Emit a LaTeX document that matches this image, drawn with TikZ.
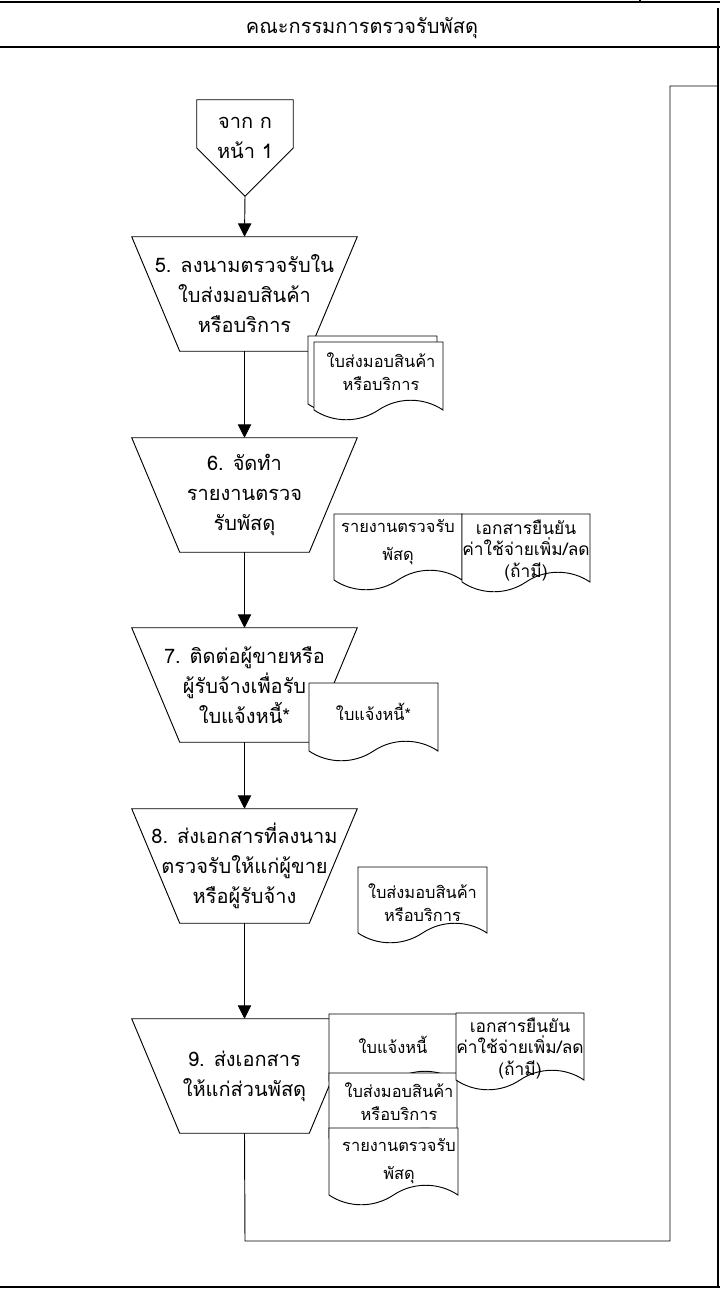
\documentclass[tikz,border=0pt]{standalone}
\usepackage{fontspec}
\setmainfont[Script=Thai]{Loma}
\usetikzlibrary{arrows.meta}
\newcommand{\trapdraw}[1]{\draw[shapeline] (#1.north west) -- (#1.north east) -- ([xshift=-36pt]#1.south east) -- ([xshift=36pt]#1.south west) -- cycle;}
\newcommand{\docdraw}[4]{\draw[shapeline, fill=white] (#1,#2) -- ({#1+#3},#2) -- ({#1+#3},#4)
   .. controls ({#1+0.85*#3},{#4-13}) and ({#1+0.65*#3},{#4-13}) .. ({#1+0.5*#3},#4)
   .. controls ({#1+0.35*#3},{#4+13}) and ({#1+0.15*#3},{#4+13}) .. (#1,#4) -- cycle;}
\begin{document}
\begin{tikzpicture}[x=0.75pt,y=-0.75pt,
  frameline/.style={line width=1.5pt, draw=black},
  shapeline/.style={line width=0.7pt, draw=black},
  flow/.style={shapeline, -{Triangle[length=10pt,width=10pt]}},
  stepbox/.style={inner sep=0pt, minimum width=168.75pt, minimum height=85.5pt, align=center, font=\fontsize{15}{22.5}\selectfont},
  doctext/.style={inner sep=0pt, align=center, font=\fontsize{12.3}{17}\selectfont},
  doctextb/.style={inner sep=0pt, align=center, font=\fontsize{13}{16}\selectfont},
]
\useasboundingbox (0,0) rectangle (720,1290);
% frame
\draw[frameline] (0,2) -- (720,2);
\draw[frameline] (640,0) -- (640,3);
\draw[frameline] (0,47) -- (720,47);
\draw[frameline] (718,8) -- (718,1288);
\draw[frameline] (0,1287) -- (720,1287);
\node[font=\fontsize{15}{20}\selectfont] (title) at (362,28) {คณะกรรมการตรวจรับพัสดุ};

% off-page connector
\node[inner sep=0pt, minimum width=72pt, minimum height=72pt] (offp) at (245,148) {};
\draw[shapeline] (offp.north west) -- (offp.north east) -- (offp.east) -- (offp.south) -- (offp.west) -- cycle;
\node[align=center, inner sep=0pt, font=\fontsize{15}{22.5}\selectfont] (offpt) at (245,138) {จาก ก\\หน้า 1};

% steps
\node[stepbox] (s5) at (244.5,294) {5. ลงนามตรวจรับใน\\ใบส่งมอบสินค้า\\หรือบริการ};
\node[stepbox] (s6) at (244.5,495) {6. จัดทำ\\รายงานตรวจ\\รับพัสดุ};
\node[stepbox] (s7) at (244.5,685) {7. ติดต่อผู้ขายหรือ\\ผู้รับจ้างเพื่อรับ\\ใบแจ้งหนี้*};
\node[stepbox] (s8) at (244.5,866) {8. ส่งเอกสารที่ลงนาม\\ตรวจรับให้แก่ผู้ขาย\\หรือผู้รับจ้าง};
\node[stepbox] (s9) at (244.5,1076) {9. ส่งเอกสาร\\ให้แก่ส่วนพัสดุ};
\trapdraw{s5}
\trapdraw{s6}
\trapdraw{s7}
\trapdraw{s8}
\trapdraw{s9}

% connectors
\draw[flow] (offp.south) -- (s5.north);
\draw[flow] (s5.south) -- (s6.north);
\draw[flow] (s6.south) -- (s7.north);
\draw[flow] (s7.south) -- (s8.north);
\draw[flow] (s8.south) -- (s9.north);
\coordinate (lp1) at (245,1241);
\coordinate (lp2) at (670,1241);
\coordinate (lp3) at (670,86);
\coordinate (out) at (718,86);
\draw[shapeline] (s9.south) -- (lp1) -- (lp2) -- (lp3) -- (out);

% documents
\docdraw{308}{336}{129}{404}
\docdraw{314}{342}{129}{410}
\node[doctext] (d5) at (381,372) {ใบส่งมอบสินค้า\\หรือบริการ};

\docdraw{334}{514}{128}{580}
\node[doctext] (d6a) at (398,542.5) {รายงานตรวจรับ\\[4pt]พัสดุ};
\docdraw{462}{514}{128}{582}
\node[doctextb] (d6b) at (526,550.5) {เอกสารยืนยัน\\ค่าใช้จ่ายเพิ่ม/ลด\\(ถ้ามี)};

\docdraw{309}{683}{129}{751}
\node[doctext] (d7) at (373.5,712) {ใบแจ้งหนี้*};

\docdraw{358}{867}{129}{933}
\node[doctext] (d8) at (422.5,902.5) {ใบส่งมอบสินค้า\\หรือบริการ};

\docdraw{329}{1014}{128}{1081}
\node[doctext] (d9a) at (393,1045) {ใบแจ้งหนี้};
\docdraw{329}{1073}{128}{1138}
\node[doctext] (d9b) at (399,1101.5) {ใบส่งมอบสินค้า\\หรือบริการ};
\docdraw{329}{1128}{129}{1195}
\node[doctext] (d9c) at (399,1161) {รายงานตรวจรับ\\[4pt]พัสดุ};
\docdraw{456}{1013}{128}{1080}
\node[doctextb] (d9d) at (520,1048.5) {เอกสารยืนยัน\\ค่าใช้จ่ายเพิ่ม/ลด\\(ถ้ามี)};
\end{tikzpicture}
\end{document}
